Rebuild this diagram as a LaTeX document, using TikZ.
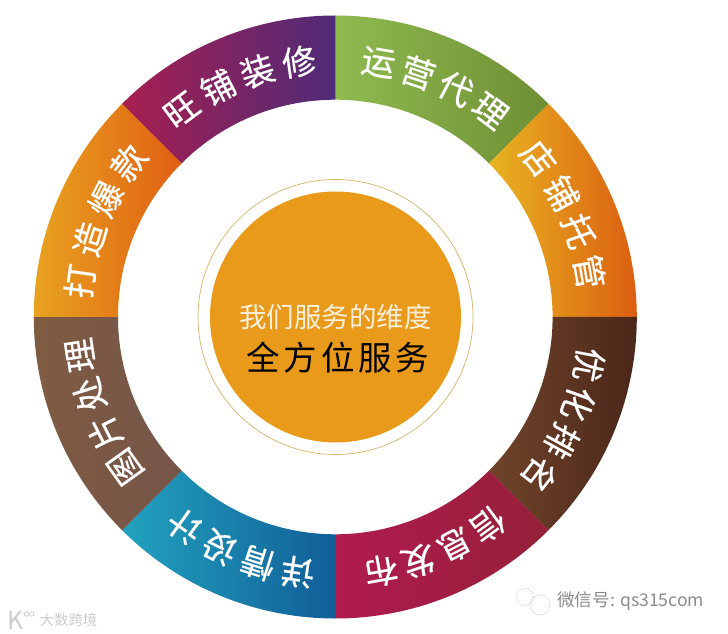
\documentclass[tikz,border=0pt]{standalone}
\usepackage{fontspec}
\newfontfamily\cjk{Noto Sans CJK SC}
\newfontfamily\cjkbold[FakeBold=0.5]{Noto Sans CJK SC}
\definecolor{coreorange}{HTML}{E99A1B}
\definecolor{corering}{HTML}{D9B368}
\definecolor{corelabel}{HTML}{FBF0DC}
\definecolor{marktext}{HTML}{8C8C8C}
\definecolor{ghost}{HTML}{CCCCCC}
\definecolor{yunL}{HTML}{8FBB50}\definecolor{yunR}{HTML}{6E8E34}
\definecolor{dianL}{HTML}{E8B422}\definecolor{dianR}{HTML}{DB5E10}
\definecolor{youL}{HTML}{70442B}\definecolor{youR}{HTML}{4B2719}
\definecolor{xinL}{HTML}{B01B50}\definecolor{xinR}{HTML}{952038}
\definecolor{xiangL}{HTML}{22A2BF}\definecolor{xiangR}{HTML}{115E98}
\definecolor{tuL}{HTML}{7F5B42}\definecolor{tuR}{HTML}{765549}
\definecolor{daL}{HTML}{E8A220}\definecolor{daR}{HTML}{E05F12}
\definecolor{wangL}{HTML}{A81F50}\definecolor{wangR}{HTML}{4F2A78}
\newcommand{\sector}[4]{% start angle, end angle (clockwise from top), left colour, right colour
  \shade[left color=#3,right color=#4]
    ({90-#1}:301.5) arc[start angle={90-#1},end angle={90-#2},radius=301.5]
    -- ({90-#2}:217.3) arc[start angle={90-#2},end angle={90-#1},radius=217.3] -- cycle;}
\newcommand{\ringlabel}[4]{% name, first angle, step, characters
  \foreach \ch [count=\i from 0] in {#4}{
    \pgfmathsetmacro{\th}{#2+#3*\i}
    \node[ringchar,rotate={-\th}] (#1\i) at ({90-\th}:258) {\ch};
  }}
\tikzset{
  x=1pt,y=1pt,
  ringchar/.style={text=white,font=\cjkbold\fontsize{34}{34}\selectfont,inner sep=0pt},
  corechar/.style={font=\cjk,inner sep=0pt},
  bubble/.style={draw=ghost,line width=0.8pt,densely dotted}
}
\begin{document}
\begin{tikzpicture}
\useasboundingbox (-335.3,-317) rectangle (392.7,317);
\fill[white] (-335.3,-317) rectangle (392.7,317);
% ring sectors, clockwise from the top
\sector{0}{45}{yunL}{yunR}
\sector{45}{90}{dianL}{dianR}
\sector{90}{135}{youL}{youR}
\sector{135}{180}{xinL}{xinR}
\sector{180}{225}{xiangL}{xiangR}
\sector{225}{270}{tuL}{tuR}
\sector{270}{315}{daL}{daR}
\sector{315}{360}{wangL}{wangR}
% ring labels
\ringlabel{yun}{9.6}{9.1}{运,营,代,理}
\ringlabel{dian}{52}{9.3}{店,铺,托,管}
\ringlabel{you}{100.7}{9}{优,化,排,名}
\ringlabel{xin}{143.7}{8.7}{信,息,发,布}
\ringlabel{xiang}{188.4}{9.1}{详,情,设,计}
\ringlabel{tu}{234.5}{9}{图,片,处,理}
\ringlabel{da}{278}{9.6}{打,造,爆,款}
\ringlabel{wang}{323.4}{9.5}{旺,铺,装,修}
% centre
\node[circle,draw=corering,line width=0.7pt,minimum size=275pt,inner sep=0pt] (ring) at (0.2,0) {};
\node[circle,fill=coreorange,minimum size=251pt,inner sep=0pt] (core) at (0.2,0) {};
\node[corechar,text=corelabel] (dim) at (0.2,0) {\fontsize{27.5}{28}\selectfont 我们服务的维度};
\node[corechar,text=black] (all) at (2.7,-41) {\fontsize{33.5}{34}\selectfont 全\hspace{3.8pt}方\hspace{3.8pt}位\hspace{3.8pt}服\hspace{3.8pt}务};
% watermark, lower right
\node[circle,bubble,minimum size=17pt,inner sep=0pt] (bubA) at (189.7,-280) {};
\node[circle,bubble,minimum size=20pt,inner sep=0pt] (bubB) at (204.7,-288) {};
\node[corechar,text=marktext,anchor=west] (wx) at (221.7,-284) {\fontsize{17.6}{18}\selectfont 微信号: qs315com};
% watermark, lower left
\node[corechar,text=ghost] (klogo) at (-320,-303) {\fontsize{25}{25}\selectfont K};
\node[circle,draw=ghost,line width=0.8pt,minimum size=4.5pt,inner sep=0pt] (loopA) at (-309,-297) {};
\node[circle,draw=ghost,line width=0.8pt,minimum size=4.5pt,inner sep=0pt] (loopB) at (-303.5,-297) {};
\node[corechar,text=ghost,anchor=west] (dsh) at (-295.5,-303) {\fontsize{14.3}{15}\selectfont 大数跨境};
\end{tikzpicture}
\end{document}
